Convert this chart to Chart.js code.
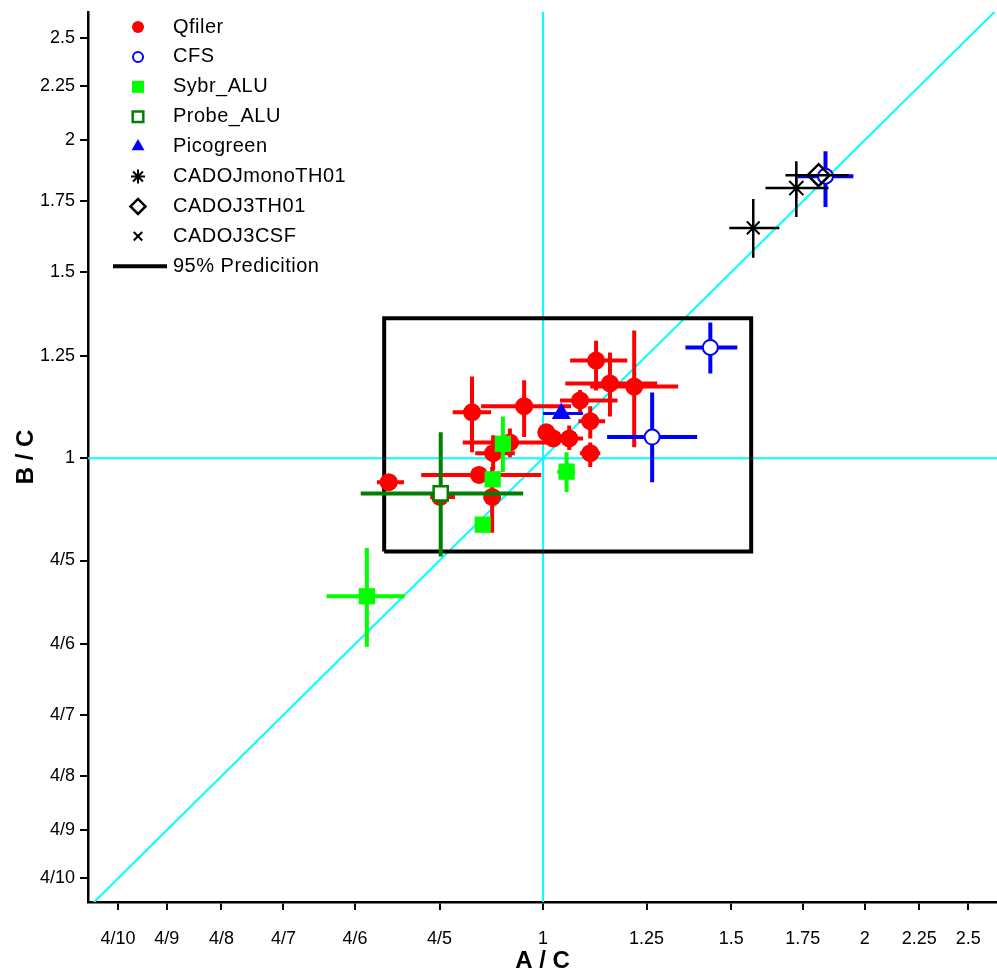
<!DOCTYPE html>
<html>
<head>
<meta charset="utf-8">
<style>
  html, body { margin: 0; padding: 0; background: #fff; }
</style>
<script src="https://cdn.jsdelivr.net/npm/chart.js@4.4.0/dist/chart.umd.min.js"></script>
</head>
<body>
<canvas id="chart" width="997" height="978"></canvas>
<script>
// axis ranges and tick labels (both axes log scale, ratios)
const xRange = [0.375, 2.66];
const yRange = [0.38, 2.645];
const tickValues = [0.4, 4 / 9, 0.5, 4 / 7, 4 / 6, 0.8, 1, 1.25, 1.5, 1.75, 2, 2.25, 2.5];
const tickLabels = ['4/10', '4/9', '4/8', '4/7', '4/6', '4/5', '1', '1.25', '1.5', '1.75', '2', '2.25', '2.5'];

const seriesNames = ['Qfiler', 'CFS', 'Sybr_ALU', 'Probe_ALU', 'Picogreen', 'CADOJmonoTH01', 'CADOJ3TH01', 'CADOJ3CSF'];

// each row: [x, y, xLow, xHigh, yLow, yHigh]
const qfiler = [
    [0.717, 0.949, 0.699, 0.741, 0.940, 0.957],
    [0.858, 1.105, 0.823, 0.894, 1.013, 1.195],
    [0.960, 1.120, 0.875, 1.062, 1.047, 1.185],
    [0.871, 0.964, 0.769, 0.996, 0.957, 0.971],
    [0.898, 1.011, 0.864, 0.941, 0.974, 1.051],
    [0.931, 1.035, 0.841, 1.009, 1.002, 1.067],
    [0.896, 0.919, 0.890, 0.902, 0.850, 0.981],
    [0.801, 0.919, 0.784, 0.827, 0.912, 0.926],
    [1.007, 1.058, 0.995, 1.020, 1.040, 1.075],
    [1.022, 1.044, 1.010, 1.035, 1.035, 1.053],
    [1.058, 1.044, 1.031, 1.090, 1.018, 1.074],
    [1.107, 1.084, 1.079, 1.143, 1.044, 1.120],
    [1.107, 1.011, 1.083, 1.131, 0.981, 1.035],
    [1.083, 1.134, 1.037, 1.174, 1.105, 1.160],
    [1.121, 1.237, 1.060, 1.199, 1.159, 1.292],
    [1.155, 1.177, 1.049, 1.279, 1.095, 1.259],
    [1.217, 1.169, 1.107, 1.338, 1.024, 1.321]
];
const cfs = [
    [1.434, 1.273, 1.359, 1.520, 1.203, 1.344],
    [1.265, 1.047, 1.148, 1.394, 0.949, 1.154],
    [1.838, 1.849, 1.730, 1.952, 1.729, 1.952]
];
const sybrAlu = [
    [0.684, 0.740, 0.627, 0.742, 0.663, 0.822],
    [0.878, 0.865, 0.878, 0.878, 0.865, 0.865],
    [0.897, 0.955, 0.897, 0.897, 0.955, 0.955],
    [0.917, 1.032, 0.917, 0.917, 0.970, 1.095],
    [1.052, 0.971, 1.031, 1.071, 0.929, 1.013]
];
const probeAlu = [[0.802, 0.926, 0.675, 0.958, 0.807, 1.058]];
const picogreen = [[1.040, 1.102, 1.000, 1.090, 1.102, 1.102]];
const cadojMonoTH01 = [[1.726, 1.802, 1.615, 1.850, 1.692, 1.910]];
const cadoj3TH01 = [[1.811, 1.853, 1.686, 1.932, 1.853, 1.853]];
const cadoj3CSF = [[1.573, 1.652, 1.494, 1.664, 1.548, 1.759]];

// 95% prediction box corners
const predX = [0.71, 1.566];
const predY = [0.816, 1.357];

const FONT = '"Liberation Sans", Arial, Helvetica, sans-serif';

function pts(rows) {
    return rows.map(r => ({ x: r[0], y: r[1] }));
}

function series(label, rows, style) {
    return Object.assign({
        label: label,
        rows: rows,
        data: pts(rows),
        showLine: false,
        pointBorderWidth: 0,
        barWidth: 4
    }, style);
}

function refLine(label, data, color, width) {
    return {
        label: label,
        data: data,
        showLine: true,
        fill: false,
        borderColor: color,
        borderWidth: width,
        pointRadius: 0,
        order: 20
    };
}

const lo = Math.min(xRange[0], yRange[0]);
const hi = Math.max(xRange[1], yRange[1]);

const datasets = [
    series(seriesNames[0], qfiler, { pointStyle: 'circle', pointRadius: 9, pointBackgroundColor: '#ff0000', pointBorderColor: '#ff0000', barColor: '#ff0000', order: 8 }),
    series(seriesNames[1], cfs, { pointStyle: 'circle', pointRadius: 7.5, pointBackgroundColor: '#ffffff', pointBorderColor: '#0000ff', pointBorderWidth: 2, barColor: '#0000ff', order: 7 }),
    series(seriesNames[2], sybrAlu, { pointStyle: 'rect', pointRadius: 11.5, pointBackgroundColor: '#00ff00', pointBorderColor: '#00ff00', barColor: '#00ff00', order: 6 }),
    series(seriesNames[3], probeAlu, { pointStyle: 'rect', pointRadius: 10, pointBackgroundColor: '#ffffff', pointBorderColor: '#008000', pointBorderWidth: 2.5, barColor: '#008000', order: 5 }),
    series(seriesNames[4], picogreen, { pointStyle: 'triangle', pointRadius: 11, pointBackgroundColor: '#0000ff', pointBorderColor: '#0000ff', barColor: '#0000ff', barWidth: 3, order: 4 }),
    series(seriesNames[5], cadojMonoTH01, { pointStyle: 'star', pointRadius: 10, pointBackgroundColor: '#000', pointBorderColor: '#000', pointBorderWidth: 2, barColor: '#000', barWidth: 2.5, order: 3 }),
    series(seriesNames[6], cadoj3TH01, { pointStyle: 'rectRot', pointRadius: 11, pointBackgroundColor: 'rgba(0,0,0,0)', pointBorderColor: '#000', pointBorderWidth: 2.5, barColor: '#000', barWidth: 2.5, order: 1 }),
    series(seriesNames[7], cadoj3CSF, { pointStyle: 'crossRot', pointRadius: 9, pointBackgroundColor: '#000', pointBorderColor: '#000', pointBorderWidth: 2, barColor: '#000', barWidth: 2.5, order: 2 }),
    refLine('identity', [{ x: lo, y: lo }, { x: hi, y: hi }], '#00ffff', 2),
    refLine('x=1', [{ x: 1, y: yRange[0] }, { x: 1, y: yRange[1] }], '#00ffff', 2),
    refLine('y=1', [{ x: xRange[0], y: 1 }, { x: xRange[1], y: 1 }], '#00ffff', 2),
    Object.assign(refLine('95% Predicition', [
        { x: predX[0], y: predY[0] }, { x: predX[1], y: predY[0] },
        { x: predX[1], y: predY[1] }, { x: predX[0], y: predY[1] },
        { x: predX[0], y: predY[0] }
    ], '#000000', 4), { order: 19, borderJoinStyle: 'miter' })
];

// error bars drawn just before each dataset's markers
const errorBars = {
    id: 'errorBars',
    beforeDatasetDraw(chart, args) {
        const ds = chart.data.datasets[args.index];
        if (!ds.rows) return;
        const ctx = chart.ctx;
        const a = chart.chartArea;
        const xs = chart.scales.x, ys = chart.scales.y;
        ctx.save();
        ctx.beginPath();
        ctx.rect(a.left, a.top, a.right - a.left, a.bottom - a.top);
        ctx.clip();
        ctx.strokeStyle = ds.barColor;
        ctx.lineWidth = ds.barWidth;
        ctx.lineCap = 'butt';
        ds.rows.forEach(r => {
            const px = xs.getPixelForValue(r[0]);
            const py = ys.getPixelForValue(r[1]);
            ctx.beginPath();
            if (r[3] > r[2]) {
                ctx.moveTo(xs.getPixelForValue(r[2]), py);
                ctx.lineTo(xs.getPixelForValue(r[3]), py);
            }
            if (r[5] > r[4]) {
                ctx.moveTo(px, ys.getPixelForValue(r[4]));
                ctx.lineTo(px, ys.getPixelForValue(r[5]));
            }
            ctx.stroke();
        });
        ctx.restore();
    }
};

// legend in the top-left corner of the plot
const legendSizes = [6, 5, 8.5, 7.5, 7.5, 7, 7.5, 6];
const cornerLegend = {
    id: 'cornerLegend',
    afterDraw(chart) {
        const ctx = chart.ctx;
        const mx = 138, tx = 173, top = 27, step = 29.9;
        ctx.save();
        ctx.font = '20px ' + FONT;
        if ('letterSpacing' in ctx) ctx.letterSpacing = '0.5px';
        ctx.textBaseline = 'middle';
        ctx.textAlign = 'left';
        seriesNames.forEach((name, i) => {
            const ds = chart.data.datasets[i];
            const y = top + i * step;
            ctx.fillStyle = ds.pointBackgroundColor;
            ctx.strokeStyle = ds.pointBorderColor;
            ctx.lineWidth = Math.max(ds.pointBorderWidth, 2);
            const opts = { pointStyle: ds.pointStyle, radius: legendSizes[i], borderWidth: ds.pointBorderWidth > 0 ? ctx.lineWidth : 0, rotation: 0 };
            if (Chart.helpers && Chart.helpers.drawPoint) {
                Chart.helpers.drawPoint(ctx, opts, mx, y);
            } else {
                ctx.beginPath();
                ctx.arc(mx, y, legendSizes[i], 0, Math.PI * 2);
                ctx.fill();
            }
            ctx.fillStyle = '#000';
            ctx.fillText(name, tx, y);
        });
        const box = chart.data.datasets[datasets.length - 1];
        const y = top + seriesNames.length * step;
        ctx.strokeStyle = box.borderColor;
        ctx.lineWidth = box.borderWidth;
        ctx.beginPath();
        ctx.moveTo(113, y);
        ctx.lineTo(167, y);
        ctx.stroke();
        ctx.fillStyle = '#000';
        ctx.fillText(box.label, tx, y);
        ctx.restore();
    }
};

function axis(range, titleText, isX) {
    return {
        type: 'logarithmic',
        min: range[0],
        max: range[1],
        afterBuildTicks: s => { s.ticks = tickValues.map(v => ({ value: v })); },
        afterFit: s => {
            if (isX) s.height = 76; else s.width = 88;
            s.paddingLeft = 0;
            s.paddingRight = 0;
            s.paddingTop = 0;
            s.paddingBottom = 0;
        },
        ticks: {
            autoSkip: false,
            maxRotation: 0,
            minRotation: 0,
            color: '#000',
            padding: isX ? 18 : 5,
            font: { family: FONT, size: 18 },
            callback: (v, i) => tickLabels[i]
        },
        grid: {
            drawOnChartArea: false,
            drawTicks: true,
            tickLength: 8,
            color: '#000',
            lineWidth: 2
        },
        border: { display: true, color: '#000', width: 2.5 },
        title: {
            display: true,
            text: titleText,
            color: '#000',
            font: { family: FONT, size: 24, weight: 'bold' },
            padding: isX ? { top: 0, bottom: 2 } : { top: 12, bottom: 0 }
        }
    };
}

new Chart(document.getElementById('chart'), {
    type: 'scatter',
    data: { datasets: datasets },
    options: {
        responsive: false,
        animation: false,
        devicePixelRatio: 1,
        layout: { autoPadding: false, padding: { top: 12, right: 0, bottom: 0, left: 0 } },
        plugins: {
            legend: { display: false },
            tooltip: { enabled: false }
        },
        scales: {
            x: axis(xRange, 'A / C', true),
            y: axis(yRange, 'B / C', false)
        }
    },
    plugins: [errorBars, cornerLegend]
});
</script>
</body>
</html>
